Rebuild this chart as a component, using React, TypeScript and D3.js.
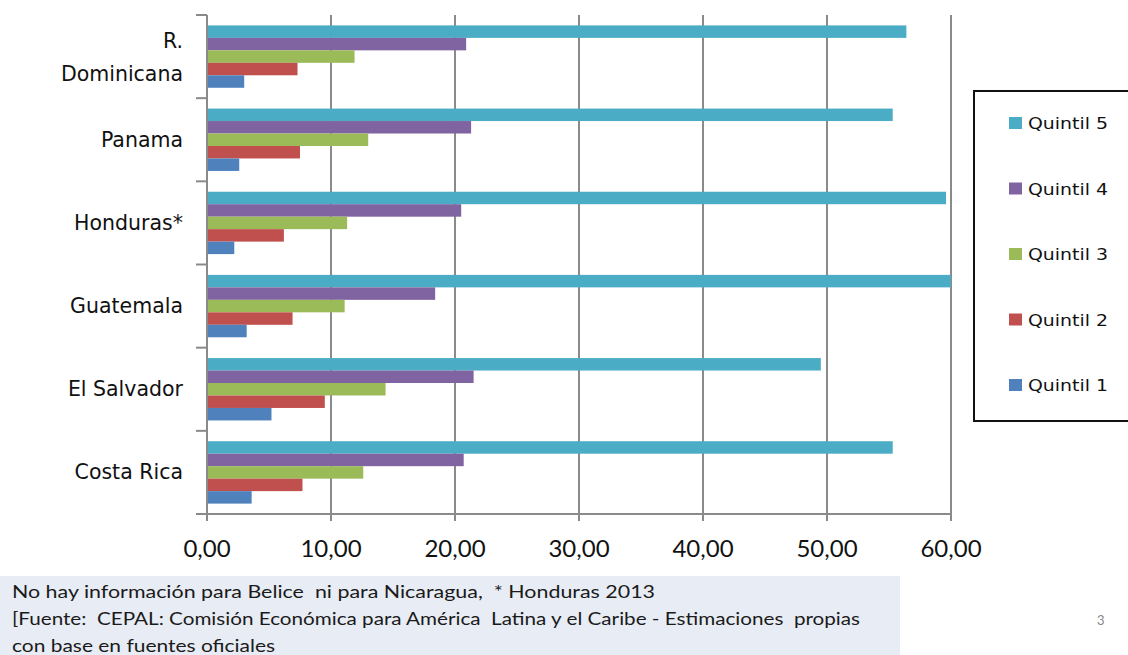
import * as d3 from "d3";
import React, { useRef, useEffect } from "react";

const countries = ["R. Dominicana", "Panama", "Honduras*", "Guatemala", "El Salvador", "Costa Rica"];
const quintiles = ["Quintil 5", "Quintil 4", "Quintil 3", "Quintil 2", "Quintil 1"];
const colors = ["#4BACC6", "#8064A2", "#9BBB59", "#C0504D", "#4F81BD"];

// values per quintile, same order as countries
const quintil5 = [56.4, 55.3, 59.6, 60.0, 49.5, 55.3];
const quintil4 = [20.9, 21.3, 20.5, 18.4, 21.5, 20.7];
const quintil3 = [11.9, 13.0, 11.3, 11.1, 14.4, 12.6];
const quintil2 = [7.3, 7.5, 6.2, 6.9, 9.5, 7.7];
const quintil1 = [3.0, 2.6, 2.2, 3.2, 5.2, 3.6];
const series = [quintil5, quintil4, quintil3, quintil2, quintil1];

const xTicks = [0, 10, 20, 30, 40, 50, 60];
const notes = [
  "No hay información para Belice  ni para Nicaragua,  * Honduras 2013",
  "[Fuente:  CEPAL: Comisión Económica para América  Latina y el Caribe - Estimaciones  propias",
  "con base en fuentes oficiales",
];

export default function App() {
  const svgRef = useRef(null);

  useEffect(() => {
    const width = 1128;
    const height = 655;
    const m = { left: 207, right: 951, top: 15, bottom: 514 };

    const svg = d3.select(svgRef.current).attr("width", width).attr("height", height);
    svg.selectAll("*").remove();
    svg.append("rect").attr("width", width).attr("height", height).attr("fill", "#fff");

    const x = d3.scaleLinear().domain([0, 60]).range([m.left, m.right]);
    const y0 = d3.scaleBand().domain(countries).range([m.top, m.bottom]).paddingInner(0.25).paddingOuter(0.125);
    const y1 = d3.scaleBand().domain(quintiles).range([0, y0.bandwidth()]);
    const step = y0.step();

    const fmt = d3.formatLocale({ decimal: ",", thousands: ".", grouping: [3], currency: ["", ""] }).format(".2f");

    // gridlines
    svg
      .selectAll("line.grid")
      .data(xTicks.slice(1))
      .enter()
      .append("line")
      .attr("x1", (d) => x(d))
      .attr("x2", (d) => x(d))
      .attr("y1", m.top)
      .attr("y2", m.bottom + 7)
      .attr("stroke", "#8a8a8a")
      .attr("stroke-width", 2);

    // bars
    const g = svg
      .selectAll("g.country")
      .data(countries)
      .enter()
      .append("g")
      .attr("transform", (d) => `translate(0,${y0(d)})`);

    g.selectAll("rect")
      .data((d, i) => quintiles.map((q, j) => ({ q, v: series[j][i], c: colors[j] })))
      .enter()
      .append("rect")
      .attr("x", x(0))
      .attr("y", (d) => y1(d.q))
      .attr("width", (d) => x(d.v) - x(0))
      .attr("height", y1.bandwidth())
      .attr("fill", (d) => d.c);

    // axes
    svg
      .append("line")
      .attr("x1", x(0))
      .attr("x2", x(0))
      .attr("y1", m.top)
      .attr("y2", m.bottom + 7)
      .attr("stroke", "#8a8a8a")
      .attr("stroke-width", 2);
    svg
      .append("line")
      .attr("x1", x(0) - 11)
      .attr("x2", m.right)
      .attr("y1", m.bottom)
      .attr("y2", m.bottom)
      .attr("stroke", "#8a8a8a")
      .attr("stroke-width", 2);
    svg
      .selectAll("line.ytick")
      .data(countries)
      .enter()
      .append("line")
      .attr("x1", x(0) - 11)
      .attr("x2", x(0))
      .attr("y1", (d) => y0(d) - step * 0.125)
      .attr("y2", (d) => y0(d) - step * 0.125)
      .attr("stroke", "#8a8a8a")
      .attr("stroke-width", 2);

    svg
      .selectAll("text.xlab")
      .data(xTicks)
      .enter()
      .append("text")
      .attr("x", (d) => x(d))
      .attr("y", 557)
      .attr("text-anchor", "middle")
      .attr("font-family", "Lato, sans-serif")
      .attr("font-size", 24)
      .attr("fill", "#111")
      .text((d) => fmt(d));

    // category labels
    const lab = svg
      .selectAll("text.ylab")
      .data(countries)
      .enter()
      .append("text")
      .attr("text-anchor", "end")
      .attr("font-family", "DejaVu Sans, sans-serif")
      .attr("font-size", 20.5)
      .attr("fill", "#111")
      .attr("x", 183)
      .attr("y", (d) => y0(d) + y0.bandwidth() / 2 + 7);
    lab.each(function (d) {
      const t = d3.select(this);
      if (d === "R. Dominicana") {
        t.append("tspan").attr("x", 183).attr("dy", -16).text("R.");
        t.append("tspan").attr("x", 183).attr("dy", 33).text("Dominicana");
      } else {
        t.text(d);
      }
    });

    // legend
    svg
      .append("rect")
      .attr("x", 974)
      .attr("y", 91)
      .attr("width", 170)
      .attr("height", 330)
      .attr("fill", "#fff")
      .attr("stroke", "#111")
      .attr("stroke-width", 2);
    const leg = svg
      .selectAll("g.leg")
      .data(quintiles)
      .enter()
      .append("g")
      .attr("transform", (d, i) => `translate(1009,${123 + i * 65.5})`);
    leg
      .append("rect")
      .attr("x", 0)
      .attr("y", -6)
      .attr("width", 13)
      .attr("height", 12)
      .attr("fill", (d, i) => colors[i]);
    leg
      .append("text")
      .attr("x", 19)
      .attr("y", 6)
      .attr("font-family", "DejaVu Sans, sans-serif")
      .attr("font-size", 16)
      .attr("fill", "#111")
      .attr("textLength", 80)
      .attr("lengthAdjust", "spacingAndGlyphs")
      .text((d) => d);

    // footnote
    svg.append("rect").attr("x", 0).attr("y", 576).attr("width", 900).attr("height", 80).attr("fill", "#e8ecf4");
    const noteLens = [643, 848, 263];
    svg
      .selectAll("text.note")
      .data(notes)
      .enter()
      .append("text")
      .attr("x", 12)
      .attr("y", (d, i) => 598 + i * 27)
      .attr("font-family", "Lato, sans-serif")
      .attr("font-size", 17)
      .attr("fill", "#1a1a1a")
      .style("white-space", "pre")
      .attr("textLength", (d, i) => noteLens[i])
      .attr("lengthAdjust", "spacingAndGlyphs")
      .text((d) => d);

    svg
      .append("text")
      .attr("x", 1097)
      .attr("y", 625)
      .attr("font-family", "Lato, sans-serif")
      .attr("font-size", 13)
      .attr("fill", "#888")
      .text("3");
  }, []);

  return (
    <div style={{ position: "absolute", left: 0, top: 0 }}>
      <svg ref={svgRef} style={{ display: "block" }}></svg>
    </div>
  );
}
